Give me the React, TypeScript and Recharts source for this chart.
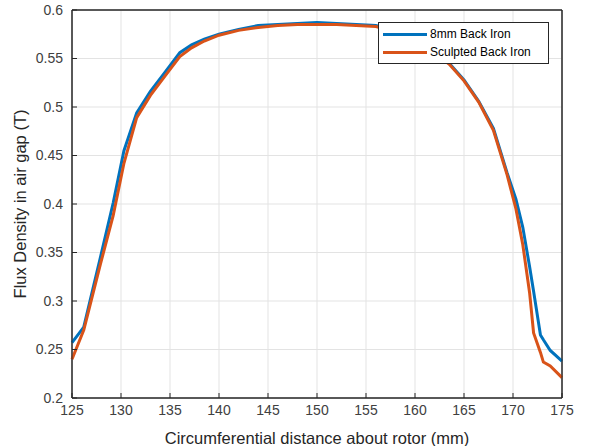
import {
  LineChart, Line, XAxis, YAxis, CartesianGrid, ReferenceArea
} from 'recharts';

// circumferential distance (mm)
const distance = [
  125, 126.2, 127.9, 129.2, 130.3, 131.6, 133, 134.5, 136, 137.2, 138.5, 140,
  142, 144, 146, 148, 150, 152, 154, 156, 158, 160, 162, 163.5, 165, 166.5,
  168, 169.4, 170.3, 171, 171.7, 172.1, 172.8, 173.1, 173.8, 175,
];

// flux density (T)
const backIron8mm = [
  0.257, 0.273, 0.345, 0.401, 0.455, 0.494, 0.516, 0.536, 0.556, 0.564, 0.57, 0.575,
  0.58, 0.584, 0.585, 0.586, 0.587, 0.586, 0.585, 0.584, 0.579, 0.57, 0.556, 0.545, 0.528, 0.506,
  0.478, 0.432, 0.405, 0.376, 0.335, 0.31, 0.265, 0.26, 0.249, 0.238,
];
const sculptedBackIron = [
  0.24, 0.27, 0.338, 0.388, 0.442, 0.489, 0.512, 0.532, 0.552, 0.561, 0.568, 0.574,
  0.579, 0.582, 0.584, 0.585, 0.585, 0.585, 0.584, 0.583, 0.578, 0.569, 0.556, 0.544, 0.527, 0.505,
  0.476, 0.43, 0.395, 0.358, 0.308, 0.267, 0.247, 0.237, 0.233, 0.221,
];

const seriesNames = ['8mm Back Iron', 'Sculpted Back Iron'];
const xTicks = [125, 130, 135, 140, 145, 150, 155, 160, 165, 170, 175];
const yTicks = [0.2, 0.25, 0.3, 0.35, 0.4, 0.45, 0.5, 0.55, 0.6];

const data = distance.map((d, i) => ({
  d,
  a: backIron8mm[i],
  b: sculptedBackIron[i],
}));

const FONT = '"Liberation Sans", Arial, sans-serif';
const AXIS = '#262626';
const BLUE = '#0072BD';
const ORANGE = '#D95319';
const colors = [BLUE, ORANGE];

function LegendBox() {
  return (
    <div style={{
      position: 'absolute', left: 378, top: 22, width: 161,
      background: '#fff', border: `1px solid ${AXIS}`, padding: '2px 4px',
      fontFamily: FONT, fontSize: 12, color: '#000', lineHeight: '18px',
    }}>
      {seriesNames.map((name, i) => (
        <div key={name} style={{ display: 'flex', alignItems: 'center' }}>
          <span style={{ display: 'inline-block', width: 44, height: 3, background: colors[i], marginRight: 3 }} />
          {name}
        </div>
      ))}
    </div>
  );
}

export default function App() {
  return (
    <div style={{ position: 'absolute', left: 0, top: 0, width: 596, height: 446, background: '#fff' }}>
      <LineChart width={596} height={446} data={data}
        margin={{ top: 10, right: 34, bottom: 0, left: 0 }}>
        <CartesianGrid stroke="#e3e3e3" />
        <XAxis
          dataKey="d" type="number" domain={[125, 175]} ticks={xTicks}
          stroke={AXIS} tickSize={-5} tickMargin={12} height={48}
          tick={{ fontSize: 14, fill: '#404040', fontFamily: FONT }}
          label={{ value: 'Circumferential distance about rotor (mm)', position: 'insideBottom', offset: 2, fontSize: 16.5, fill: '#262626', fontFamily: FONT }}
        />
        <XAxis xAxisId="top" orientation="top" dataKey="d" type="number" domain={[125, 175]}
          ticks={xTicks} stroke={AXIS} tickSize={5} tick={false} height={1} mirror />
        <YAxis
          domain={[0.2, 0.6]} ticks={yTicks} stroke={AXIS} tickSize={-5} tickMargin={14} width={72}
          tick={{ fontSize: 14, fill: '#404040', fontFamily: FONT }}
          label={{ value: 'Flux Density in air gap (T)', angle: -90, position: 'insideLeft', offset: 20, style: { textAnchor: 'middle' }, fontSize: 16.5, fill: '#262626', fontFamily: FONT }}
        />
        <YAxis yAxisId="right" orientation="right" domain={[0.2, 0.6]} ticks={yTicks}
          stroke={AXIS} tickSize={5} tick={false} width={1} mirror />
        <ReferenceArea x1={125} x2={175} y1={0.2} y2={0.6} fill="none" stroke={AXIS} strokeWidth={1} />
        <Line dataKey="a" name={seriesNames[0]} stroke={BLUE} strokeWidth={3} dot={false} isAnimationActive={false} />
        <Line dataKey="b" name={seriesNames[1]} stroke={ORANGE} strokeWidth={3} dot={false} isAnimationActive={false} />
      </LineChart>
      <LegendBox />
    </div>
  );
}
